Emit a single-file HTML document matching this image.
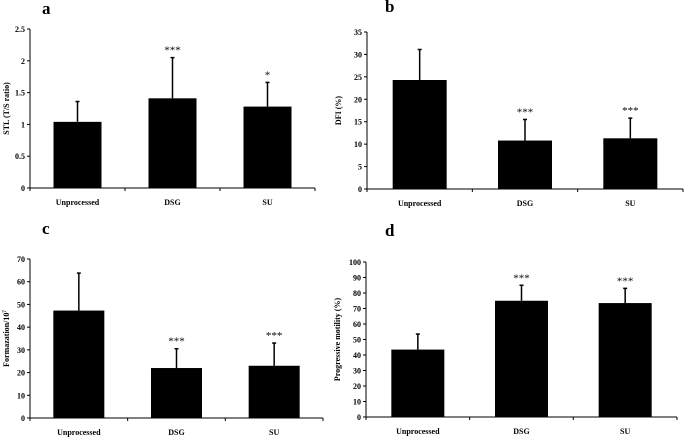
<!DOCTYPE html>
<html><head><meta charset="utf-8"><style>
body{margin:0;background:#fff;width:685px;height:437px;overflow:hidden}
svg{font-family:"Liberation Serif",serif;font-weight:bold}
</style></head><body>
<svg id="fig" width="685" height="437" viewBox="0 0 685 437"></svg>
<script>
const categories=["Unprocessed","DSG","SU"];
const aValues=[1.04,1.41,1.28];
const aErrors=[0.32,0.64,0.38];
const aStars=["","***","*"];
const aTicks=[0,0.5,1,1.5,2,2.5];
const bValues=[24.3,10.8,11.3];
const bErrors=[6.8,4.7,4.5];
const bStars=["","***","***"];
const bTicks=[0,5,10,15,20,25,30,35];
const cValues=[47.3,22,23];
const cErrors=[16.5,8.5,10];
const cStars=["","***","***"];
const cTicks=[0,10,20,30,40,50,60,70];
const dValues=[43.5,75,73.5];
const dErrors=[10,10,9.5];
const dStars=["","***","***"];
const dTicks=[0,10,20,30,40,50,60,70,80,90,100];

const svg=document.getElementById('fig');
const NS="http://www.w3.org/2000/svg";
function mk(tag,attrs,parent){const e=document.createElementNS(NS,tag);for(const k in attrs)e.setAttribute(k,attrs[k]);(parent||svg).appendChild(e);return e;}

function panel(id,letter,lx,ly,x0,x1,y0,y1,ticks,values,errors,stars,title,titleX,barW){
  const g=mk('g',{});
  
  
  const max=ticks[ticks.length-1];
  const ys=v=>y0-(v/max)*(y0-y1);
  const step=(x1-x0)/categories.length;
  const xs=i=>x0+step*(i+0.5);
  const L=mk('text',{x:lx,y:ly,'font-size':17},g);L.textContent=letter;
  
  
  const ya=mk('line',{x1:x0,y1:y0,x2:x0,y2:y1,stroke:'#000','stroke-width':1},g);
  
  
  const xa=mk('line',{x1:x0,y1:y0,x2:x1,y2:y0,stroke:'#000','stroke-width':1},g);
  
  
  ticks.forEach(t=>{
    const y=ys(t);
    mk('line',{x1:x0-3,y1:y,x2:x0,y2:y,stroke:'#000'},g);
    const tt=mk('text',{x:x0-5,y:y+3,'font-size':8,'text-anchor':'end'},g);tt.textContent=t;
    
    
  });
  for(let i=0;i<=categories.length;i++){const x=x0+step*i;mk('line',{x1:x,y1:y0,x2:x,y2:y0+3,stroke:'#000'},g);}
  categories.forEach((c,i)=>{
    const cx=xs(i),v=values[i],e=errors[i];
    const bar=mk('rect',{x:cx-barW/2,y:ys(v),width:barW,height:y0-ys(v),fill:'#000'},g);
    
    
    const eb=mk('line',{x1:cx,y1:ys(v),x2:cx,y2:ys(v+e),stroke:'#000','stroke-width':1.5},g);
    
    
    mk('line',{x1:cx-2,y1:ys(v+e),x2:cx+2,y2:ys(v+e),stroke:'#000','stroke-width':1.5},g);
    if(stars[i]){const s=mk('text',{x:cx,y:ys(v+e)-4,'font-size':11,'text-anchor':'middle','font-weight':'normal'},g);s.textContent=stars[i];
      
      }
    const cl=mk('text',{x:cx,y:y0+17,'font-size':8,'text-anchor':'middle'},g);cl.textContent=c;
    
    
  });
  const my=(y0+y1)/2;
  const yt=mk('text',{x:titleX,y:my,'font-size':8,'text-anchor':'middle',transform:`rotate(-90 ${titleX} ${my})`},g);
  yt.innerHTML=title;
  
  
}
panel('a','a',42,14,30,315,188,29,aTicks,aValues,aErrors,aStars,'STL (T/S ratio)',9,48);
panel('b','b',385,12,367,683,189,32,bTicks,bValues,bErrors,bStars,'DFI (%)',341,54);
panel('c','c',42,234,30,323,418,259,cTicks,cValues,cErrors,cStars,'Formazation/10<tspan dy="-3" font-size="5">7</tspan>',9,51);
panel('d','d',385,236,366,677,417,262,dTicks,dValues,dErrors,dStars,'Progressive motility  (%)',340,53);
</script>
</body></html>
